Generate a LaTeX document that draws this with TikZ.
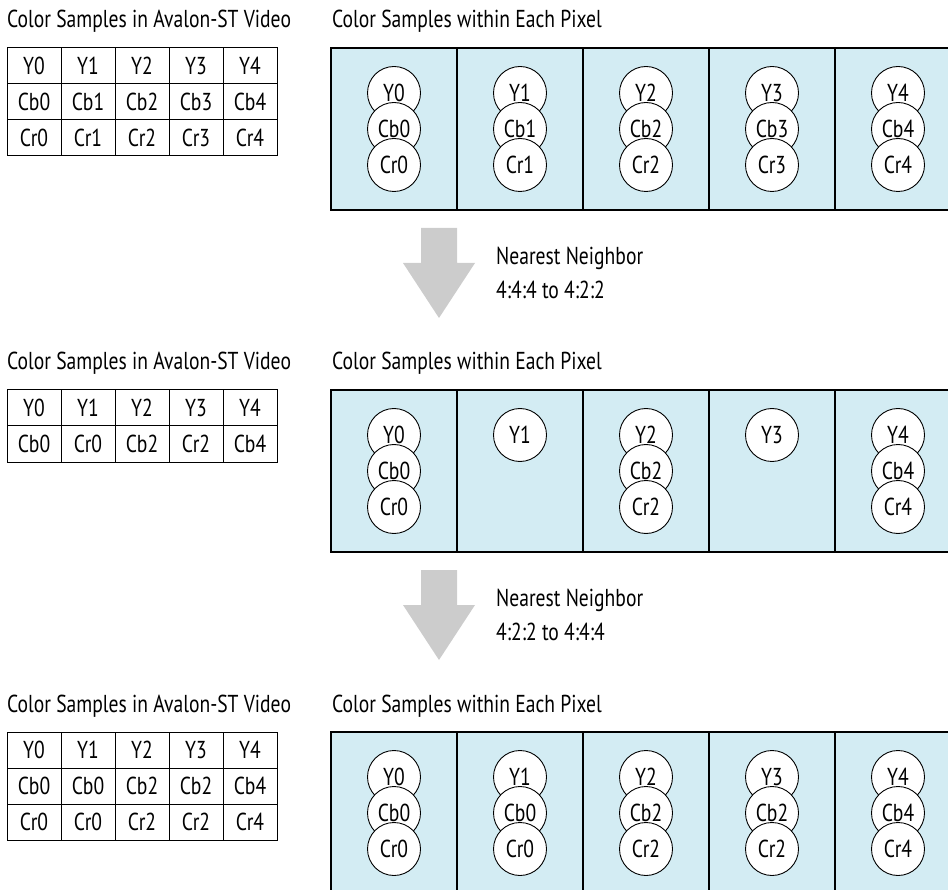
\documentclass[tikz,border=0pt]{standalone}
\usepackage{fontspec}
\setmainfont{PT Sans}[FakeStretch=0.8]
\usepackage{tikz}
\usetikzlibrary{positioning}
\definecolor{pixelblue}{RGB}{211,236,243}
\definecolor{arrowgray}{RGB}{204,204,204}

\begin{document}
\begin{tikzpicture}[
  x=1pt,y=-1pt,
  every node/.style={font=\fontsize{24.5}{34}\selectfont},
  title/.style={anchor=base west,inner sep=0pt},
  cell/.style={draw,line width=1pt,minimum width=54pt,minimum height=36pt,
    inner sep=0pt},
  pixel/.style={draw,line width=1.2pt,fill=pixelblue,minimum width=126pt,
    minimum height=162pt,inner sep=0pt},
  sample/.style={draw,circle,line width=0.9pt,fill=white,minimum size=53pt,
    inner sep=0pt},
  fatarrow/.style={fill=arrowgray},
  note/.style={anchor=west,align=left,inner sep=0pt}
]
  \useasboundingbox (0,0) rectangle (948,890);
  \clip (0,0) rectangle (948,890);

  % 4:4:4 input
  \node[title] (src-title-1) at (7,28) {Color Samples in Avalon-ST Video};
  \node[title] (pix-title-1) at (332,28) {Color Samples within Each Pixel};
  \foreach \i in {0,...,4} {
    \node[cell] (tab1-y\i) at (34+54*\i,66) {Y\i};
    \node[cell] (tab1-cb\i) at (34+54*\i,102) {Cb\i};
    \node[cell] (tab1-cr\i) at (34+54*\i,138) {Cr\i};
    \node[pixel] (pix1-\i) at (394+126*\i,129) {};
    \node[sample] (s1-y\i) at (394+126*\i,93) {Y\i};
    \node[sample] (s1-cb\i) at (394+126*\i,129) {Cb\i};
    \node[sample] (s1-cr\i) at (394+126*\i,165) {Cr\i};
  }

  \fill[fatarrow] (421,228) -- (457,228) -- (457,263) -- (475,263)
    -- (439,318) -- (403,263) -- (421,263) -- cycle;
  \node[note] (step1) at (496,273) {Nearest Neighbor\\4:4:4 to 4:2:2};

  % 4:2:2
  \node[title] (src-title-2) at (7,370) {Color Samples in Avalon-ST Video};
  \node[title] (pix-title-2) at (332,370) {Color Samples within Each Pixel};
  \foreach \i/\c in {0/Cb0,1/Cr0,2/Cb2,3/Cr2,4/Cb4} {
    \node[cell] (tab2-y\i) at (34+54*\i,408) {Y\i};
    \node[cell] (tab2-c\i) at (34+54*\i,444) {\c};
    \node[pixel] (pix2-\i) at (394+126*\i,471) {};
    \node[sample] (s2-y\i) at (394+126*\i,435) {Y\i};
  }
  \foreach \i in {0,2,4} {
    \node[sample] (s2-cb\i) at (394+126*\i,471) {Cb\i};
    \node[sample] (s2-cr\i) at (394+126*\i,507) {Cr\i};
  }

  \fill[fatarrow] (421,570) -- (457,570) -- (457,605) -- (475,605)
    -- (439,660) -- (403,605) -- (421,605) -- cycle;
  \node[note] (step2) at (496,615) {Nearest Neighbor\\4:2:2 to 4:4:4};

  % 4:4:4 output
  \node[title] (src-title-3) at (7,712) {Color Samples in Avalon-ST Video};
  \node[title] (pix-title-3) at (332,712) {Color Samples within Each Pixel};
  \foreach \i/\j in {0/0,1/0,2/2,3/2,4/4} {
    \node[cell] (tab3-y\i) at (34+54*\i,750) {Y\i};
    \node[cell] (tab3-cb\i) at (34+54*\i,786) {Cb\j};
    \node[cell] (tab3-cr\i) at (34+54*\i,822) {Cr\j};
    \node[pixel] (pix3-\i) at (394+126*\i,813) {};
    \node[sample] (s3-y\i) at (394+126*\i,777) {Y\i};
    \node[sample] (s3-cb\i) at (394+126*\i,813) {Cb\j};
    \node[sample] (s3-cr\i) at (394+126*\i,849) {Cr\j};
  }
\end{tikzpicture}
\end{document}
